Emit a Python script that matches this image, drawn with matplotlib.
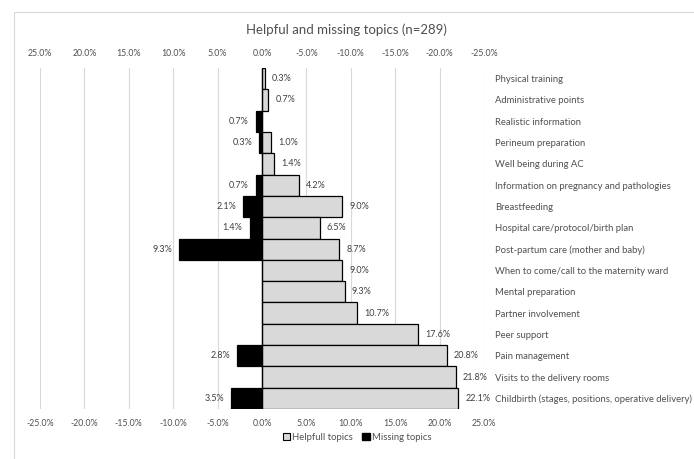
import numpy as np
import matplotlib.pyplot as plt
from matplotlib.patches import Patch, Rectangle
from matplotlib.ticker import FuncFormatter

plt.rcParams['font.family'] = ['Lato', 'DejaVu Sans']

# Datos del gráfico (de arriba hacia abajo)
categorias = [
    "Physical training",
    "Administrative points",
    "Realistic information",
    "Perineum preparation",
    "Well being during AC",
    "Information on pregnancy and pathologies",
    "Breastfeeding",
    "Hospital care/protocol/birth plan",
    "Post-partum care (mother and baby)",
    "When to come/call to the maternity ward",
    "Mental preparation",
    "Partner involvement",
    "Peer support",
    "Pain management",
    "Visits to the delivery rooms",
    "Childbirth (stages, positions, operative delivery)",
]
utiles = [0.3, 0.7, 0.0, 1.0, 1.4, 4.2, 9.0, 6.5, 8.7, 9.0, 9.3, 10.7, 17.6, 20.8, 21.8, 22.1]
faltantes = [0.0, 0.0, 0.7, 0.3, 0.0, 0.7, 2.1, 1.4, 9.3, 0.0, 0.0, 0.0, 0.0, 2.8, 0.0, 3.5]
ticks = list(range(-25, 26, 5))

gris_texto = '#505050'
fmt = FuncFormatter(lambda v, p: f"{v:.1f}%")

fig = plt.figure(figsize=(6.94, 4.59), dpi=100)
# Marco del gráfico
fig.patches.append(Rectangle((14 / 694, -0.05), 1.0, 1 - 12 / 459 + 0.05,
                             transform=fig.transFigure, fill=False,
                             edgecolor='#d9d9d9', linewidth=0.8))

ax = fig.add_axes([40 / 694, 1 - 409 / 459, 444 / 694, 341 / 459])
y = np.arange(len(categorias))

ax.barh(y, utiles, height=1.0, color='#d9d9d9', edgecolor='black', linewidth=0.9, zorder=3)
ax.barh(y, [-m for m in faltantes], height=1.0, color='black', edgecolor='black',
        linewidth=0.9, zorder=3)

# Etiquetas de valores
for yi, u, m in zip(y, utiles, faltantes):
    if u > 0:
        ax.text(u + 0.8, yi, f"{u:.1f}%", va='center', ha='left', fontsize=6.5, color='#404040')
    if m > 0:
        ax.text(-m - 0.8, yi, f"{m:.1f}%", va='center', ha='right', fontsize=6.5, color='#404040')

ax.set_xlim(-25, 25)
ax.set_ylim(len(categorias) - 0.5, -0.5)
ax.set_xticks(ticks)
ax.xaxis.set_major_formatter(fmt)
ax.grid(axis='x', color='#d9d9d9', linewidth=0.8, zorder=0)
for s in ax.spines.values():
    s.set_visible(False)

ax.set_yticks(y)
ax.set_yticklabels(categorias)
ax.yaxis.tick_right()
ax.tick_params(axis='y', length=0, pad=8, labelsize=6.8, labelcolor=gris_texto)
ax.tick_params(axis='x', length=0, pad=7, labelsize=6.3, labelcolor=gris_texto)

# Eje superior invertido
sec = ax.secondary_xaxis('top', functions=(np.negative, np.negative))
sec.set_xticks(ticks)
sec.xaxis.set_major_formatter(fmt)
sec.tick_params(length=0, pad=7, labelsize=6.3, labelcolor=gris_texto)
sec.spines['top'].set_visible(False)

fig.text(346 / 694, 1 - 30 / 459, "Helpful and missing topics (n=289)", ha='center', va='center',
         fontsize=9.5, color=gris_texto)

handles = [Patch(facecolor='#d9d9d9', edgecolor='black', linewidth=0.8, label='Helpfull topics'),
           Patch(facecolor='black', edgecolor='black', label='Missing topics')]
fig.legend(handles=handles, loc='center', bbox_to_anchor=(357 / 694, 1 - 437 / 459), ncol=2,
           frameon=False, fontsize=6.8, handlelength=0.8, handleheight=0.8, handletextpad=0.2,
           columnspacing=1.0, labelcolor=gris_texto)

fig.savefig('out.png', dpi=100)
